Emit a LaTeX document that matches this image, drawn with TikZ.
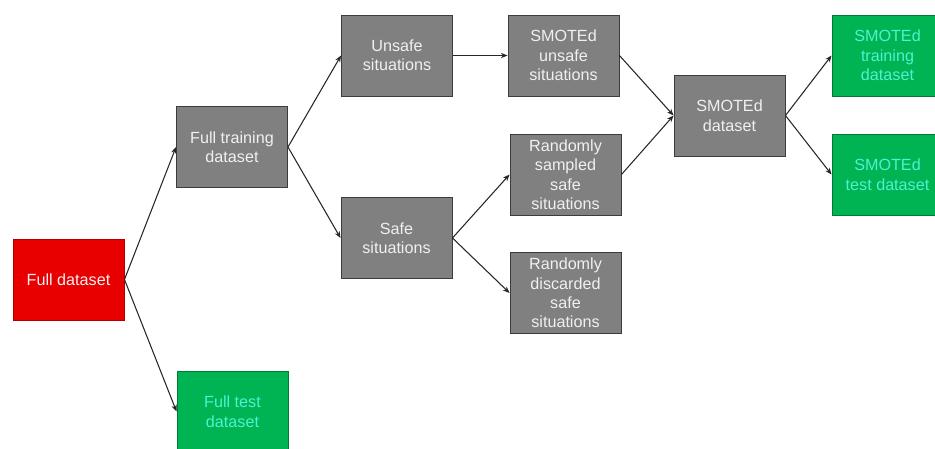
\documentclass[tikz,border=0pt]{standalone}
\usepackage{fontspec}
\setmainfont{Liberation Sans}
\usepackage{xcolor}
\usepackage{tikz}
\usetikzlibrary{arrows.meta,positioning}
\definecolor{redx}{HTML}{E80000}
\definecolor{redline}{HTML}{B00000}
\definecolor{grayx}{HTML}{808080}
\definecolor{grayline}{HTML}{3C3C3C}
\definecolor{greenx}{HTML}{00B454}
\definecolor{greenline}{HTML}{007A38}
\definecolor{cyantext}{HTML}{50F0D0}
\definecolor{whitetext}{HTML}{F0F0F0}
\tikzset{
  ar/.style={-{Stealth[length=2mm,width=1.6mm]},line width=0.9pt,black!85},
  box/.style={draw,line width=0.8pt,align=center,inner sep=2pt,
    minimum width=3.33cm,minimum height=2.43cm,
    font=\fontsize{13.8}{16.6}\selectfont},
  graybox/.style={box,fill=grayx,draw=grayline,text=whitetext},
  redbox/.style={box,fill=redx,draw=redline,text=whitetext},
  greenbox/.style={box,fill=greenx,draw=greenline,text=cyantext}
}

\begin{document}
\begin{tikzpicture}[x=0.03cm,y=-0.03cm]
\useasboundingbox (0,0) rectangle (935,448);
\clip (0,0) rectangle (935,448);
% boxes
\node[redbox] (full) at (68.5,279.5) {Full dataset};
\node[graybox] (train) at (232,147) {Full training\\dataset};
\node[greenbox] (test) at (232.5,411.5) {Full test\\dataset};
\node[graybox] (unsafe) at (397,55.5) {Unsafe\\situations};
\node[graybox] (safe) at (396.5,238) {Safe\\situations};
\node[graybox] (smunsafe) at (563.5,55.5) {SMOTEd\\unsafe\\situations};
\node[graybox] (sampled) at (565.5,174.5) {Randomly\\sampled\\safe\\situations};
\node[graybox] (discarded) at (565.5,293) {Randomly\\discarded\\safe\\situations};
\node[graybox] (smoted) at (729.5,115.5) {SMOTEd\\dataset};
\node[greenbox] (smtrain) at (887.5,55.5) {SMOTEd\\training\\dataset};
\node[greenbox] (smtest) at (887.5,174.5) {SMOTEd\\test dataset};
% arrows
\draw[ar] (full.east) -- (train.west);
\draw[ar] (full.east) -- (test.west);
\draw[ar] (train.east) -- (unsafe.west);
\draw[ar] (train.east) -- (safe.west);
\draw[ar] (unsafe.east) -- (smunsafe.west);
\draw[ar] (safe.east) -- (sampled.west);
\draw[ar] (safe.east) -- (discarded.west);
\draw[ar] (smunsafe.east) -- (smoted.west);
\draw[ar] (sampled.east) -- (smoted.west);
\draw[ar] (smoted.east) -- (smtrain.west);
\draw[ar] (smoted.east) -- (smtest.west);
\end{tikzpicture}
\end{document}
